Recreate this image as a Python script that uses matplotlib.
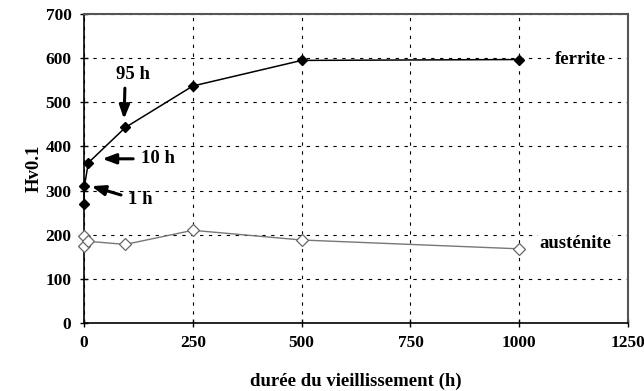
import matplotlib
matplotlib.use('Agg')
import matplotlib.pyplot as plt

# Durées de vieillissement (h) et duretés Hv0.1
ferrite_t = [0, 1, 10, 95, 250, 500, 1000]
ferrite_hv = [270, 310, 363, 443, 537, 595, 597]
austenite_t = [0, 1, 10, 95, 250, 500, 1000]
austenite_hv = [175, 198, 185, 178, 210, 188, 168]

x_ticks = [0, 250, 500, 750, 1000, 1250]
y_ticks = [0, 100, 200, 300, 400, 500, 600, 700]

plt.rcParams['font.family'] = 'Liberation Serif'
plt.rcParams['font.weight'] = 'bold'

fig = plt.figure(figsize=(6.44, 3.91), dpi=100)
ax = fig.add_axes([0.1304, 0.174, 0.845, 0.790])

ax.plot(ferrite_t, ferrite_hv, color='black', lw=1.1, marker='D', ms=5,
        mfc='black', mec='black', zorder=3, clip_on=False)
ax.plot(austenite_t, austenite_hv, color='#777777', lw=1.0, marker='D', ms=6,
        mfc='white', mec='#666666', mew=0.9, zorder=3, clip_on=False)

ax.set_xlim(0, 1250)
ax.set_ylim(0, 700)
ax.set_xticks(x_ticks)
ax.set_yticks(y_ticks)
ax.tick_params(direction='inout', length=6, width=1, labelsize=12.5, pad=6)
for lab in ax.get_xticklabels() + ax.get_yticklabels():
    lab.set_fontweight('bold')

ax.grid(True, color='black', linestyle=(0, (3, 5)), linewidth=0.8)
ax.set_axisbelow(True)
for side in ['left', 'bottom']:
    ax.spines[side].set_color('black')
    ax.spines[side].set_linewidth(1.2)
for side in ['top', 'right']:
    ax.spines[side].set_color('#555555')
    ax.spines[side].set_linewidth(1.5)

ax.set_xlabel('durée du vieillissement (h)', fontsize=13.5, fontweight='bold', labelpad=15)
ax.set_ylabel('Hv0.1', fontsize=13.5, fontweight='bold', labelpad=2)

# flèches : queue -> pointe, puis les étiquettes
arrow = dict(arrowstyle='-|>,head_width=0.3,head_length=0.8', color='black', lw=2.2,
             shrinkA=0, shrinkB=0)
ax.annotate('', xy=(92, 462), xytext=(94, 532), arrowprops=arrow)
ax.annotate('', xy=(42, 372), xytext=(113, 372), arrowprops=arrow)
ax.annotate('', xy=(17, 310), xytext=(85, 290), arrowprops=arrow)

ax.text(113, 562, '95 h', fontsize=13.5, fontweight='bold', ha='center', va='center')
ax.text(170, 372, '10 h', fontsize=13.5, fontweight='bold', ha='center', va='center')
ax.text(130, 280, '1 h', fontsize=13.5, fontweight='bold', ha='center', va='center')

ax.text(1140, 598, 'ferrite', fontsize=13.5, fontweight='bold', ha='center', va='center',
        bbox=dict(facecolor='white', edgecolor='none', pad=1))
ax.text(1128, 180, 'austénite', fontsize=13.5, fontweight='bold', ha='center', va='center',
        bbox=dict(facecolor='white', edgecolor='none', pad=1))

fig.savefig('out.png', dpi=100)
